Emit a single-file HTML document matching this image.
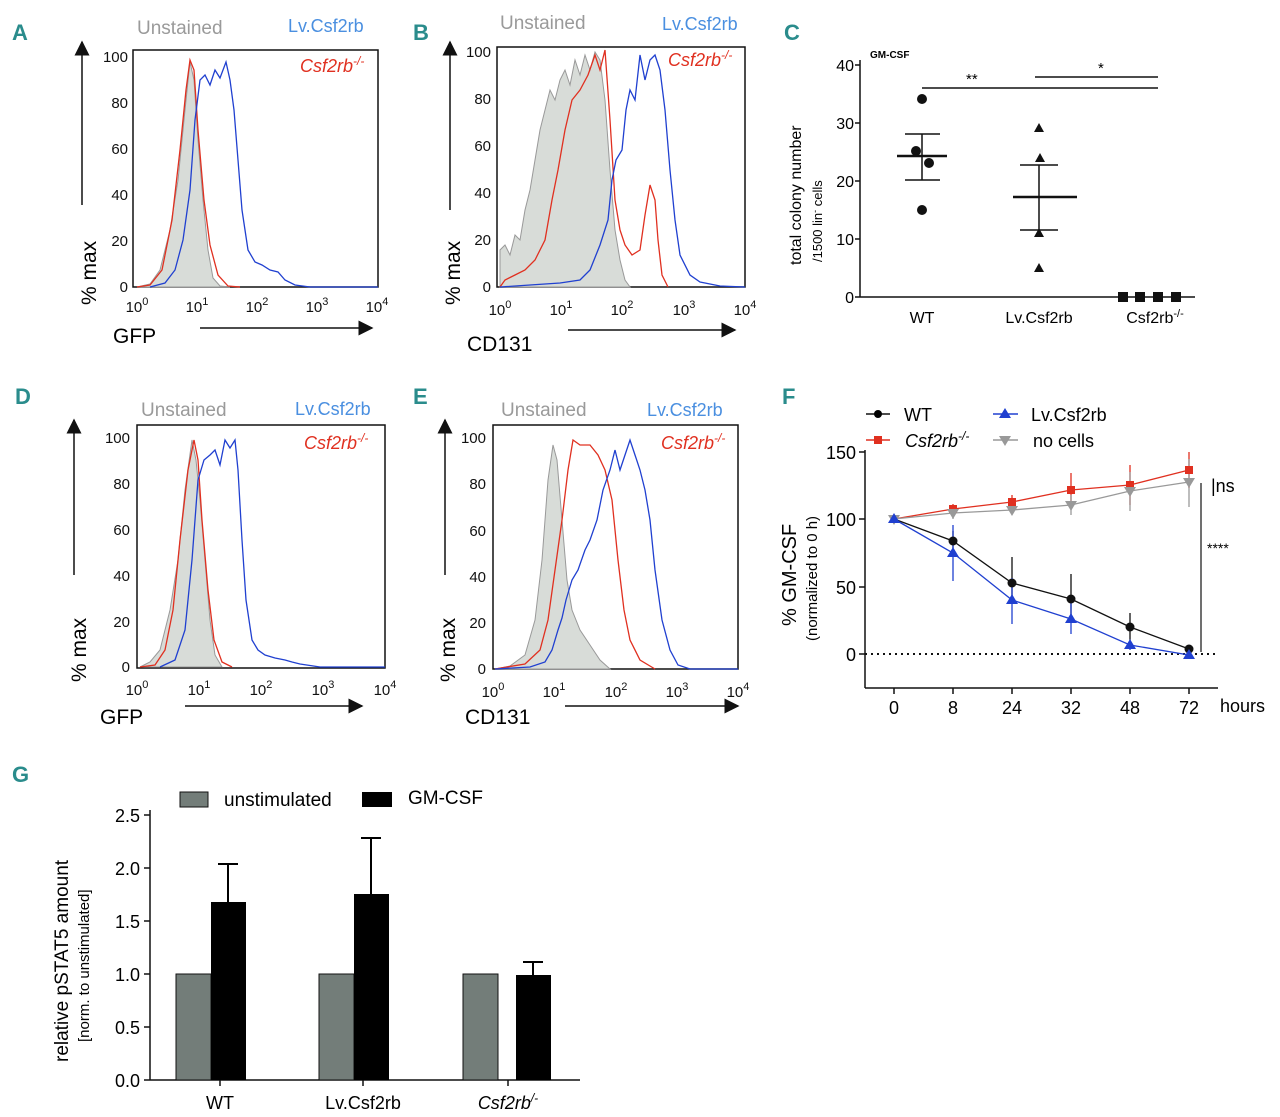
<!DOCTYPE html>
<html><head><meta charset="utf-8"><style>
html,body{margin:0;padding:0;background:#fff}
svg{display:block;font-family:"Liberation Sans",sans-serif}
.L{fill:#2a8c8c;font-weight:bold;font-size:22px}
.t{font-size:15px;fill:#111}
.ax{stroke:#111;stroke-width:1.5;fill:none}
</style></head><body>
<svg width="1280" height="1117" viewBox="0 0 1280 1117">
<defs><marker id="ar" markerWidth="10" markerHeight="10" refX="9" refY="5" orient="auto"><path d="M0,0 L10,5 L0,10 z" fill="#111"/></marker></defs>
<text class="L" x="12" y="40">A</text><text class="L" x="413" y="40">B</text><text class="L" x="784" y="40">C</text>
<text class="L" x="15" y="404">D</text><text class="L" x="413" y="404">E</text><text class="L" x="782" y="404">F</text>
<text class="L" x="12" y="782">G</text>

<!-- Panel A -->
<text x="137" y="34" font-size="19" fill="#9a9a9a">Unstained</text>
<text x="288" y="32" font-size="18" fill="#4a8fe0">Lv.Csf2rb</text>
<text x="300" y="72" font-size="18" fill="#e03020" font-style="italic">Csf2rb<tspan font-size="12" dy="-7">-/-</tspan></text>
<rect x="133" y="50" width="245" height="237" class="ax" stroke-width="1"/>
<g class="t" text-anchor="end"><text x="128" y="62">100</text><text x="128" y="108">80</text><text x="128" y="154">60</text><text x="128" y="200">40</text><text x="128" y="246">20</text><text x="128" y="292">0</text></g>
<g class="t" text-anchor="middle"><text x="137" y="312">10<tspan font-size="11" dy="-7">0</tspan></text><text x="197" y="312">10<tspan font-size="11" dy="-7">1</tspan></text><text x="257" y="312">10<tspan font-size="11" dy="-7">2</tspan></text><text x="317" y="312">10<tspan font-size="11" dy="-7">3</tspan></text><text x="377" y="312">10<tspan font-size="11" dy="-7">4</tspan></text></g>
<path d="M137,287 L150,284 160,270 170,230 178,180 185,110 190,62 194,80 198,140 203,200 208,250 213,278 220,286 230,287 Z" fill="#d8dcd8" stroke="#999"/>
<polyline fill="none" stroke="#e03020" stroke-width="1.3" points="137,287 150,285 162,270 172,220 180,150 186,90 190,60 194,70 198,130 204,200 210,245 218,275 228,286 240,287"/>
<polyline fill="none" stroke="#2040d0" stroke-width="1.3" points="150,287 165,283 175,270 183,240 190,190 195,120 200,80 205,75 210,85 215,70 220,78 226,62 230,80 234,110 238,160 242,210 248,250 255,262 262,265 270,270 278,272 285,280 295,285 310,287 378,287"/>
<line x1="82" y1="205" x2="82" y2="42" class="ax" marker-end="url(#ar)"/>
<text transform="translate(96,305) rotate(-90)" font-size="21">% max</text>
<text x="113" y="343" font-size="21">GFP</text>
<line x1="200" y1="328" x2="372" y2="328" class="ax" marker-end="url(#ar)"/>

<!-- Panel B -->
<text x="500" y="29" font-size="19" fill="#9a9a9a">Unstained</text>
<text x="662" y="30" font-size="18" fill="#4a8fe0">Lv.Csf2rb</text>
<text x="668" y="66" font-size="18" fill="#e03020" font-style="italic">Csf2rb<tspan font-size="12" dy="-7">-/-</tspan></text>
<rect x="497" y="47" width="248" height="240" class="ax" stroke-width="1"/>
<g class="t" text-anchor="end"><text x="491" y="57">100</text><text x="491" y="104">80</text><text x="491" y="151">60</text><text x="491" y="198">40</text><text x="491" y="245">20</text><text x="491" y="292">0</text></g>
<g class="t" text-anchor="middle"><text x="500" y="315">10<tspan font-size="11" dy="-7">0</tspan></text><text x="561" y="315">10<tspan font-size="11" dy="-7">1</tspan></text><text x="622" y="315">10<tspan font-size="11" dy="-7">2</tspan></text><text x="684" y="315">10<tspan font-size="11" dy="-7">3</tspan></text><text x="745" y="315">10<tspan font-size="11" dy="-7">4</tspan></text></g>
<path d="M500,287 L500,250 505,245 510,255 515,235 520,240 525,210 530,190 535,160 540,130 545,110 550,90 555,100 560,80 565,70 570,85 575,60 580,75 585,55 590,70 595,52 600,60 605,100 610,170 615,230 620,260 625,280 630,287 Z" fill="#d8dcd8" stroke="#999"/>
<polyline fill="none" stroke="#e03020" stroke-width="1.3" points="500,287 505,280 515,275 525,270 535,260 545,240 552,200 558,170 565,130 572,100 580,90 588,75 595,55 600,70 605,50 610,120 615,200 620,230 625,245 632,255 640,250 645,215 650,185 655,200 658,240 662,275 668,287"/>
<polyline fill="none" stroke="#2040d0" stroke-width="1.3" points="500,287 530,285 560,283 580,280 590,270 600,245 608,220 612,180 616,160 622,150 626,110 630,90 635,100 640,55 645,80 650,60 655,55 660,70 665,110 670,170 675,220 680,255 690,275 700,282 720,286 745,287"/>
<line x1="450" y1="210" x2="450" y2="42" class="ax" marker-end="url(#ar)"/>
<text transform="translate(460,305) rotate(-90)" font-size="21">% max</text>
<text x="467" y="351" font-size="21">CD131</text>
<line x1="568" y1="330" x2="735" y2="330" class="ax" marker-end="url(#ar)"/>

<!-- Panel C -->
<text x="870" y="58" font-size="10" font-weight="bold">GM-CSF</text>
<line x1="860" y1="60" x2="860" y2="297" class="ax"/>
<line x1="860" y1="297" x2="1195" y2="297" class="ax"/>
<g font-size="16" text-anchor="end"><text x="854" y="71">40</text><text x="854" y="129">30</text><text x="854" y="187">20</text><text x="854" y="245">10</text><text x="854" y="303">0</text></g>
<g stroke="#111" stroke-width="1.5"><line x1="855" y1="65" x2="860" y2="65"/><line x1="855" y1="123" x2="860" y2="123"/><line x1="855" y1="181" x2="860" y2="181"/><line x1="855" y1="239" x2="860" y2="239"/><line x1="855" y1="297" x2="860" y2="297"/></g>
<g font-size="16" text-anchor="middle"><text x="922" y="323">WT</text><text x="1039" y="323">Lv.Csf2rb</text><text x="1155" y="323">Csf2rb<tspan font-size="11" dy="-6">-/-</tspan></text></g>
<text transform="translate(801,265) rotate(-90)" font-size="16">total colony number</text>
<text transform="translate(822,262) rotate(-90)" font-size="13">/1500 lin<tspan font-size="9" dy="-4">-</tspan><tspan dy="4"> cells</tspan></text>
<g stroke="#111" stroke-width="1.5" fill="none">
<line x1="922" y1="88" x2="1158" y2="88"/><line x1="1035" y1="77" x2="1158" y2="77"/>
<line x1="897" y1="156" x2="947" y2="156" stroke-width="2.5"/><line x1="922" y1="134" x2="922" y2="180"/><line x1="905" y1="134" x2="940" y2="134"/><line x1="905" y1="180" x2="940" y2="180"/>
<line x1="1013" y1="197" x2="1077" y2="197" stroke-width="2.5"/><line x1="1039" y1="165" x2="1039" y2="230"/><line x1="1020" y1="165" x2="1058" y2="165"/><line x1="1020" y1="230" x2="1058" y2="230"/>
</g>
<text x="966" y="84" font-size="15">**</text><text x="1098" y="73" font-size="15">*</text>
<g fill="#111"><circle cx="922" cy="99" r="5"/><circle cx="916" cy="151" r="5"/><circle cx="929" cy="163" r="5"/><circle cx="922" cy="210" r="5"/>
<path d="M1039,123 l5,9 h-10z M1040,153 l5,9 h-10z M1039,228 l5,9 h-10z M1039,263 l5,9 h-10z"/>
<rect x="1118" y="292" width="10" height="10"/><rect x="1135" y="292" width="10" height="10"/><rect x="1153" y="292" width="10" height="10"/><rect x="1171" y="292" width="10" height="10"/></g>

<!-- Panel D -->
<text x="141" y="416" font-size="19" fill="#9a9a9a">Unstained</text>
<text x="295" y="415" font-size="18" fill="#4a8fe0">Lv.Csf2rb</text>
<text x="304" y="449" font-size="18" fill="#e03020" font-style="italic">Csf2rb<tspan font-size="12" dy="-7">-/-</tspan></text>
<rect x="137" y="425" width="248" height="243" class="ax" stroke-width="1"/>
<g class="t" text-anchor="end"><text x="130" y="443">100</text><text x="130" y="489">80</text><text x="130" y="535">60</text><text x="130" y="581">40</text><text x="130" y="627">20</text><text x="130" y="672">0</text></g>
<g class="t" text-anchor="middle"><text x="137" y="695">10<tspan font-size="11" dy="-7">0</tspan></text><text x="199" y="695">10<tspan font-size="11" dy="-7">1</tspan></text><text x="261" y="695">10<tspan font-size="11" dy="-7">2</tspan></text><text x="323" y="695">10<tspan font-size="11" dy="-7">3</tspan></text><text x="385" y="695">10<tspan font-size="11" dy="-7">4</tspan></text></g>
<path d="M140,667 L150,662 160,650 170,610 178,560 185,490 192,440 196,460 200,500 205,560 210,620 215,655 222,667 Z" fill="#d8dcd8" stroke="#999"/>
<polyline fill="none" stroke="#e03020" stroke-width="1.3" points="140,667 155,665 165,650 173,610 180,540 188,470 194,440 198,460 202,520 208,590 214,640 222,662 232,667"/>
<polyline fill="none" stroke="#2040d0" stroke-width="1.3" points="160,667 175,660 185,630 192,560 198,480 204,460 210,455 215,450 220,465 225,440 230,448 235,440 238,470 242,540 246,600 252,640 258,650 265,655 275,658 285,660 292,662 300,664 320,667 385,667"/>
<line x1="74" y1="575" x2="74" y2="420" class="ax" marker-end="url(#ar)"/>
<text transform="translate(86,682) rotate(-90)" font-size="21">% max</text>
<text x="100" y="724" font-size="21">GFP</text>
<line x1="185" y1="706" x2="362" y2="706" class="ax" marker-end="url(#ar)"/>

<!-- Panel E -->
<text x="501" y="416" font-size="19" fill="#9a9a9a">Unstained</text>
<text x="647" y="416" font-size="18" fill="#4a8fe0">Lv.Csf2rb</text>
<text x="661" y="449" font-size="18" fill="#e03020" font-style="italic">Csf2rb<tspan font-size="12" dy="-7">-/-</tspan></text>
<rect x="493" y="425" width="245" height="244" class="ax" stroke-width="1"/>
<g class="t" text-anchor="end"><text x="486" y="443">100</text><text x="486" y="489">80</text><text x="486" y="536">60</text><text x="486" y="582">40</text><text x="486" y="628">20</text><text x="486" y="674">0</text></g>
<g class="t" text-anchor="middle"><text x="493" y="697">10<tspan font-size="11" dy="-7">0</tspan></text><text x="554" y="697">10<tspan font-size="11" dy="-7">1</tspan></text><text x="616" y="697">10<tspan font-size="11" dy="-7">2</tspan></text><text x="677" y="697">10<tspan font-size="11" dy="-7">3</tspan></text><text x="738" y="697">10<tspan font-size="11" dy="-7">4</tspan></text></g>
<path d="M495,669 L510,666 525,655 535,620 542,560 548,480 553,445 557,460 562,520 567,580 572,610 580,630 590,645 600,660 610,669 Z" fill="#d8dcd8" stroke="#999"/>
<polyline fill="none" stroke="#e03020" stroke-width="1.3" points="495,669 525,664 540,650 548,620 555,570 562,520 568,470 573,440 580,445 590,445 598,455 605,470 612,500 618,560 624,610 630,640 640,660 655,669"/>
<polyline fill="none" stroke="#2040d0" stroke-width="1.3" points="495,669 530,667 545,662 552,650 558,630 562,618 566,600 572,580 578,570 585,550 590,540 597,520 603,490 610,470 615,450 620,470 625,455 630,440 635,455 640,470 645,490 650,520 655,570 662,620 670,650 678,665 690,669 738,669"/>
<line x1="445" y1="575" x2="445" y2="420" class="ax" marker-end="url(#ar)"/>
<text transform="translate(455,682) rotate(-90)" font-size="21">% max</text>
<text x="465" y="724" font-size="21">CD131</text>
<line x1="565" y1="706" x2="738" y2="706" class="ax" marker-end="url(#ar)"/>

<!-- Panel F -->
<g font-size="18">
<line x1="866" y1="414" x2="890" y2="414" stroke="#111" stroke-width="1.5"/><circle cx="878" cy="414" r="4"/><text x="904" y="421">WT</text>
<line x1="866" y1="440" x2="890" y2="440" stroke="#e03020" stroke-width="1.5"/><rect x="874" y="436" width="8" height="8" fill="#e03020"/><text x="905" y="447" font-style="italic">Csf2rb<tspan font-size="12" dy="-7">-/-</tspan></text>
<line x1="993" y1="414" x2="1018" y2="414" stroke="#2040d0" stroke-width="1.5"/><path d="M1005,408 l6,10 h-12z" fill="#2040d0"/><text x="1031" y="421">Lv.Csf2rb</text>
<line x1="993" y1="440" x2="1018" y2="440" stroke="#999" stroke-width="1.5"/><path d="M1005,446 l6,-10 h-12z" fill="#999"/><text x="1033" y="447">no cells</text>
</g>
<line x1="865" y1="450" x2="865" y2="688" class="ax"/><line x1="865" y1="688" x2="1218" y2="688" class="ax"/>
<g stroke="#111" stroke-width="1.5"><line x1="859" y1="452" x2="865" y2="452"/><line x1="859" y1="519" x2="865" y2="519"/><line x1="859" y1="587" x2="865" y2="587"/><line x1="859" y1="654" x2="865" y2="654"/>
<line x1="894" y1="688" x2="894" y2="694"/><line x1="953" y1="688" x2="953" y2="694"/><line x1="1012" y1="688" x2="1012" y2="694"/><line x1="1071" y1="688" x2="1071" y2="694"/><line x1="1130" y1="688" x2="1130" y2="694"/><line x1="1189" y1="688" x2="1189" y2="694"/></g>
<g font-size="18" text-anchor="end"><text x="856" y="459">150</text><text x="856" y="526">100</text><text x="856" y="594">50</text><text x="856" y="661">0</text></g>
<g font-size="18" text-anchor="middle"><text x="894" y="714">0</text><text x="953" y="714">8</text><text x="1012" y="714">24</text><text x="1071" y="714">32</text><text x="1130" y="714">48</text><text x="1189" y="714">72</text></g>
<text x="1220" y="712" font-size="18">hours</text>
<text transform="translate(796,626) rotate(-90)" font-size="20">% GM-CSF</text>
<text transform="translate(817,641) rotate(-90)" font-size="15">(normalized to 0 h)</text>
<line x1="865" y1="654" x2="1218" y2="654" stroke="#111" stroke-width="2" stroke-dasharray="2,4"/>
<line x1="1201" y1="483" x2="1201" y2="652" stroke="#111" stroke-width="1.2"/>
<text x="1207" y="553" font-size="14">****</text>
<text x="1211" y="492" font-size="18">|ns</text>
<g fill="none" stroke-width="1.3">
<g stroke="#e03020"><line x1="953" y1="504" x2="953" y2="514"/><line x1="1012" y1="495" x2="1012" y2="510"/><line x1="1071" y1="473" x2="1071" y2="507"/><line x1="1130" y1="465" x2="1130" y2="505"/><line x1="1189" y1="452" x2="1189" y2="488"/></g>
<g stroke="#999"><line x1="953" y1="507" x2="953" y2="519"/><line x1="1071" y1="495" x2="1071" y2="515"/><line x1="1130" y1="472" x2="1130" y2="511"/><line x1="1189" y1="459" x2="1189" y2="507"/></g>
<g stroke="#111"><line x1="953" y1="531" x2="953" y2="548"/><line x1="1012" y1="557" x2="1012" y2="600"/><line x1="1071" y1="574" x2="1071" y2="620"/><line x1="1130" y1="613" x2="1130" y2="640"/></g>
<g stroke="#2040d0"><line x1="953" y1="525" x2="953" y2="581"/><line x1="1012" y1="578" x2="1012" y2="624"/><line x1="1071" y1="602" x2="1071" y2="634"/><line x1="1130" y1="640" x2="1130" y2="650"/></g>
<polyline stroke="#e03020" points="894,519 953,509 1012,502 1071,490 1130,485 1189,470"/>
<polyline stroke="#999" points="894,519 953,513 1012,510 1071,505 1130,491 1189,482"/>
<polyline stroke="#111" points="894,519 953,541 1012,583 1071,599 1130,627 1189,649"/>
<polyline stroke="#2040d0" points="894,519 953,553 1012,600 1071,619 1130,645 1189,655"/>
</g>
<g fill="#e03020"><rect x="949" y="505" width="8" height="8"/><rect x="1008" y="498" width="8" height="8"/><rect x="1067" y="486" width="8" height="8"/><rect x="1126" y="481" width="8" height="8"/><rect x="1185" y="466" width="8" height="8"/></g>
<g fill="#999"><path d="M894,525 l6,-10 h-12z M953,519 l6,-10 h-12z M1012,516 l6,-10 h-12z M1071,511 l6,-10 h-12z M1130,497 l6,-10 h-12z M1189,488 l6,-10 h-12z"/></g>
<g fill="#111"><circle cx="953" cy="541" r="4.5"/><circle cx="1012" cy="583" r="4.5"/><circle cx="1071" cy="599" r="4.5"/><circle cx="1130" cy="627" r="4.5"/><circle cx="1189" cy="649" r="4.5"/></g>
<g fill="#2040d0"><path d="M894,513 l6,10 h-12z M953,547 l6,10 h-12z M1012,594 l6,10 h-12z M1071,613 l6,10 h-12z M1130,639 l6,10 h-12z M1189,649 l6,10 h-12z"/></g>

<!-- Panel G -->
<rect x="180" y="792" width="28" height="15" fill="#737d79" stroke="#111"/><text x="224" y="806" font-size="19">unstimulated</text>
<rect x="362" y="792" width="30" height="15" fill="#000"/><text x="408" y="804" font-size="19">GM-CSF</text>
<line x1="150" y1="810" x2="150" y2="1080" class="ax"/><line x1="150" y1="1080" x2="580" y2="1080" class="ax"/>
<g stroke="#111" stroke-width="1.5"><line x1="144" y1="815" x2="150" y2="815"/><line x1="144" y1="868" x2="150" y2="868"/><line x1="144" y1="921" x2="150" y2="921"/><line x1="144" y1="974" x2="150" y2="974"/><line x1="144" y1="1027" x2="150" y2="1027"/><line x1="144" y1="1080" x2="150" y2="1080"/>
<line x1="220" y1="1080" x2="220" y2="1086"/><line x1="363" y1="1080" x2="363" y2="1086"/><line x1="508" y1="1080" x2="508" y2="1086"/></g>
<g font-size="18" text-anchor="end"><text x="140" y="822">2.5</text><text x="140" y="875">2.0</text><text x="140" y="928">1.5</text><text x="140" y="981">1.0</text><text x="140" y="1034">0.5</text><text x="140" y="1087">0.0</text></g>
<g font-size="18" text-anchor="middle"><text x="220" y="1109">WT</text><text x="363" y="1109">Lv.Csf2rb</text><text x="508" y="1109" font-style="italic">Csf2rb<tspan font-size="12" dy="-7">/-</tspan></text></g>
<text transform="translate(68,1062) rotate(-90)" font-size="19">relative pSTAT5 amount</text>
<text transform="translate(89,1042) rotate(-90)" font-size="15">[norm. to unstimulated]</text>
<g fill="#737d79" stroke="#111" stroke-width="1"><rect x="176" y="974" width="35" height="106"/><rect x="319" y="974" width="35" height="106"/><rect x="463" y="974" width="35" height="106"/></g>
<g fill="#000"><rect x="211" y="902" width="35" height="178"/><rect x="354" y="894" width="35" height="186"/><rect x="516" y="975" width="35" height="105"/></g>
<g stroke="#000" stroke-width="2"><line x1="228" y1="864" x2="228" y2="902"/><line x1="218" y1="864" x2="238" y2="864"/><line x1="371" y1="838" x2="371" y2="894"/><line x1="361" y1="838" x2="381" y2="838"/><line x1="533" y1="962" x2="533" y2="975"/><line x1="523" y1="962" x2="543" y2="962"/></g>
</svg>
</body></html>
